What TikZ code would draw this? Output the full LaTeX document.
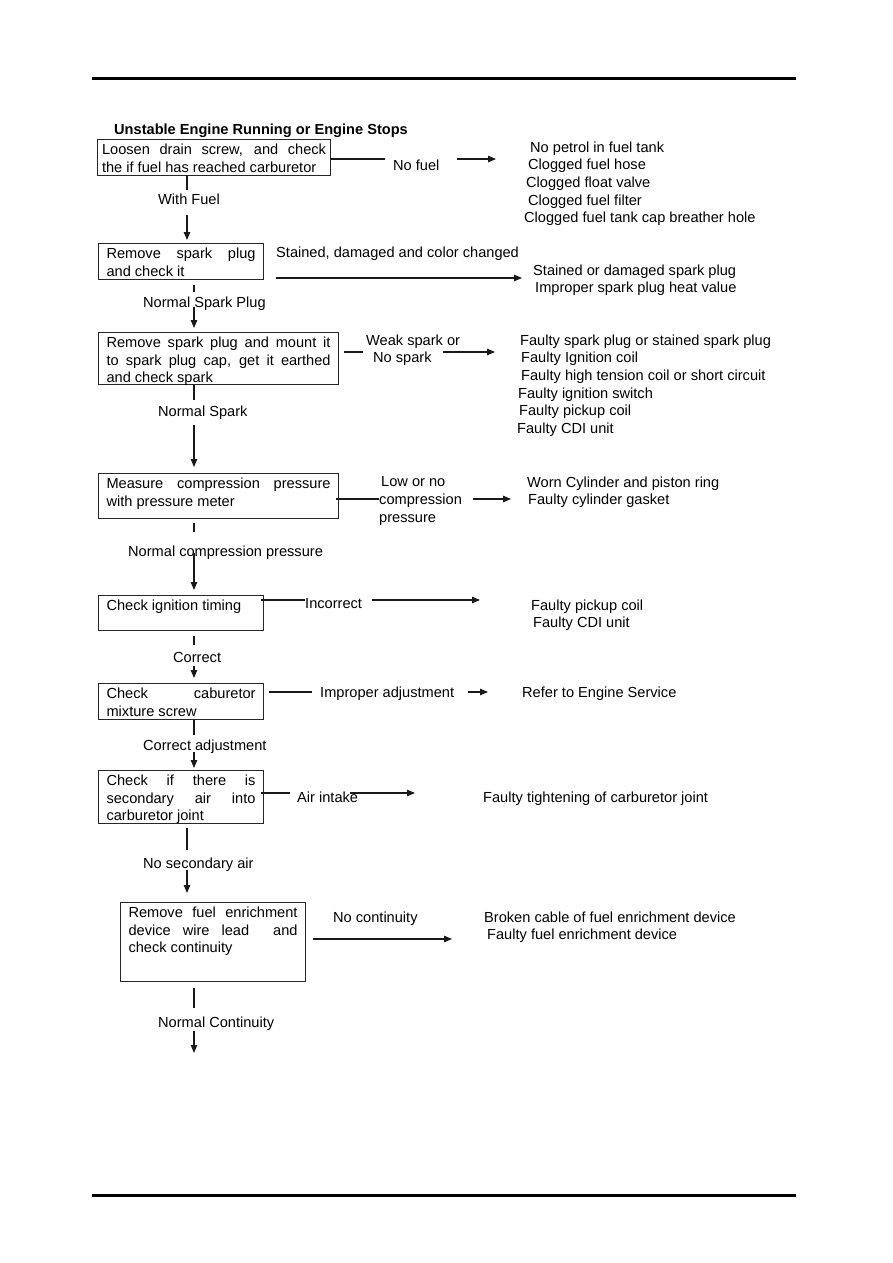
\documentclass[tikz,border=0pt]{standalone}
\usepackage{fontspec}
\setmainfont{Liberation Sans}
\usetikzlibrary{arrows.meta, positioning}

\tikzset{
  stepbox/.style={draw=black!85, line width=1.1pt, anchor=north west, inner xsep=8pt, inner ysep=0pt, align=justify, text height=15.2pt},
  lbl/.style={anchor=base west, inner sep=0pt, text height=10.6pt, text depth=3.1pt},
  res/.style={anchor=north west, inner sep=0pt, align=left, font=\fontsize{14.6}{17.6}\selectfont},
  conn/.style={line width=1.1pt, black!90},
  arr/.style={conn, -{Triangle[length=8pt,width=6.5pt]}},
}

\begin{document}
\begin{tikzpicture}[x=1pt, y=-1pt, font=\fontsize{14.6}{17.4}\selectfont]
  \useasboundingbox (0,0) rectangle (893,1263);
  % page rules
  \draw[line width=3pt] (92,78) -- (796,78);
  \draw[line width=3pt] (92,1195) -- (796,1195);

  \node[anchor=base west, inner sep=0pt, font=\fontsize{14.6}{17.4}\selectfont\bfseries] (title) at (114,134) {Unstable Engine Running or Engine Stops};

  % columns of the main line
  \coordinate (colA) at (187,0);
  \coordinate (colB) at (194,0);

  % check steps
  \node[stepbox, inner xsep=4.5pt, text width=224pt, text depth=20.8pt] (loosen) at (97,139) {Loosen drain screw, and check\linebreak the if fuel has reached carburetor};
  \node[stepbox, text width=149pt, text depth=20.8pt] (plug) at (98,243) {Remove spark plug\linebreak and check it};
  \node[stepbox, text width=224pt, text depth=36.5pt] (spark) at (98,332) {Remove spark plug and mount it\linebreak to spark plug cap, get it earthed\linebreak and check spark};
  \node[stepbox, text width=224pt, text depth=29.8pt] (comp) at (98,473) {Measure compression pressure\linebreak with pressure meter};
  \node[stepbox, text width=149pt, text depth=19.8pt] (timing) at (98,595) {Check ignition timing};
  \node[stepbox, text width=149pt, text depth=20.8pt] (mix) at (98,683) {Check caburetor\linebreak mixture screw};
  \node[stepbox, text width=149pt, text depth=37.8pt] (secair) at (98,770) {Check if there is\linebreak secondary air into\linebreak carburetor joint};
  \node[stepbox, text width=169pt, text depth=63.8pt] (enrich) at (120,902) {Remove fuel enrichment\linebreak device wire lead \ and\linebreak check continuity};

  % labels on the main line
  \node[lbl] (withfuel) at (158,204.2) {With Fuel};
  \node[lbl] (nplug) at (143,307.2) {Normal Spark Plug};
  \node[lbl] (nspark) at (158,416.2) {Normal Spark};
  \node[lbl] (ncomp) at (128,556.2) {Normal compression pressure};
  \node[lbl] (correct) at (173,662.2) {Correct};
  \node[lbl] (cadj) at (143,750.2) {Correct adjustment};
  \node[lbl] (nosec) at (143,868.2) {No secondary air};
  \node[lbl] (ncont) at (158,1027.2) {Normal Continuity};
  \coordinate (next) at (194,1053);

  % main line
  \draw[conn, shorten >=3.6pt] (loosen.south -| colA) -- (withfuel.north -| colA);
  \draw[arr, shorten <=7.7pt, shorten >=3pt] (withfuel.south -| colA) -- (plug.north -| colA);
  \draw[conn, shorten <=5pt, shorten >=4.6pt] (plug.south -| colB) -- (nplug.north -| colB);
  \draw[arr, shorten <=-3.3pt, shorten >=4pt] (nplug.south -| colB) -- (spark.north -| colB);
  \draw[conn, shorten >=5.6pt] (spark.south -| colB) -- (nspark.north -| colB);
  \draw[arr, shorten <=5.7pt, shorten >=6pt] (nspark.south -| colB) -- (comp.north -| colB);
  \draw[conn, shorten <=4pt, shorten >=13.6pt] (comp.south -| colB) -- (ncomp.north -| colB);
  \draw[arr, shorten <=-6.3pt, shorten >=5pt] (ncomp.south -| colB) -- (timing.north -| colB);
  \draw[conn, shorten <=5pt, shorten >=6.6pt] (timing.south -| colB) -- (correct.north -| colB);
  \draw[arr, shorten <=0.7pt, shorten >=5pt] (correct.south -| colB) -- (mix.north -| colB);
  \draw[conn, shorten >=4.6pt] (mix.south -| colB) -- (cadj.north -| colB);
  \draw[arr, shorten <=-1.3pt, shorten >=2pt] (cadj.south -| colB) -- (secair.north -| colB);
  \draw[conn, shorten <=4pt, shorten >=7.6pt] (secair.south -| colA) -- (nosec.north -| colA);
  \draw[arr, shorten <=-1.3pt, shorten >=9pt] (nosec.south -| colA) -- (enrich.north -| colA);
  \draw[conn, shorten <=6pt, shorten >=8.6pt] (enrich.south -| colB) -- (ncont.north -| colB);
  \draw[arr] (ncont.south -| colB) -- (next);

  % side branches
  \node[lbl] (nofuel) at (393,170.2) {No fuel};
  \node[lbl] (stained) at (276,257.2) {Stained, damaged and color changed};
  \node[res] (weak) at (366,334.6) {Weak spark or\\\hspace*{7pt}No spark};
  \node[res] (lowno) at (379,476.6) {\hspace*{2pt}Low or no\\compression\\pressure};
  \node[lbl] (incorrect) at (305,608.2) {Incorrect};
  \node[lbl] (improper) at (320,697.2) {Improper adjustment};
  \node[lbl] (airin) at (297,802.2) {Air intake};
  \node[lbl] (nocont) at (333,922.2) {No continuity};

  \coordinate (tipfuel) at (496,159);
  \coordinate (tipplug) at (522,278);
  \coordinate (tipspark) at (495,352);
  \coordinate (tipcomp) at (511,499);
  \coordinate (tiptiming) at (480,600);
  \coordinate (tipmix) at (488,692);
  \coordinate (tipair) at (415,793);
  \coordinate (tipenrich) at (452,939);

  \draw[conn, shorten >=8pt] (loosen.east |- tipfuel) -- (nofuel.west |- tipfuel);
  \draw[arr, shorten <=17pt] (nofuel.east |- tipfuel) -- (tipfuel);
  \draw[arr, shorten <=12pt] (plug.east |- tipplug) -- (tipplug);
  \draw[conn, shorten <=5pt, shorten >=3pt] (spark.east |- tipspark) -- (weak.west |- tipspark);
  \draw[arr, shorten <=-17pt] (weak.east |- tipspark) -- (tipspark);
  \draw[conn, shorten <=-3pt] (comp.east |- tipcomp) -- (lowno.west |- tipcomp);
  \draw[arr, shorten <=11pt] (lowno.east |- tipcomp) -- (tipcomp);
  \draw[conn, shorten <=-3pt] (timing.east |- tiptiming) -- (incorrect.west |- tiptiming);
  \draw[arr, shorten <=10pt] (incorrect.east |- tiptiming) -- (tiptiming);
  \draw[conn, shorten <=5pt, shorten >=8pt] (mix.east |- tipmix) -- (improper.west |- tipmix);
  \draw[arr, shorten <=14pt] (improper.east |- tipmix) -- (tipmix);
  \draw[conn, shorten <=-3pt, shorten >=7pt] (secair.east |- tipair) -- (airin.west |- tipair);
  \draw[arr, shorten <=-8pt] (airin.east |- tipair) -- (tipair);
  \draw[arr, shorten <=7pt] (enrich.east |- tipenrich) -- (tipenrich);

  % causes
  \node[res] (fuelres) at (524,141.6) {\hspace*{6pt}No petrol in fuel tank\\\hspace*{4pt}Clogged fuel hose\\\hspace*{2pt}Clogged float valve\\\hspace*{4pt}Clogged fuel filter\\Clogged fuel tank cap breather hole};
  \node[res] (plugres) at (533,264.6) {Stained or damaged spark plug\\\hspace*{2pt}Improper spark plug heat value};
  \node[res] (sparkres) at (517,334.6) {\hspace*{3pt}Faulty spark plug or stained spark plug\\\hspace*{4pt}Faulty Ignition coil\\\hspace*{4pt}Faulty high tension coil or short circuit\\\hspace*{1pt}Faulty ignition switch\\\hspace*{2pt}Faulty pickup coil\\Faulty CDI unit};
  \node[res] (compres) at (527,476.6) {Worn Cylinder and piston ring\\\hspace*{1pt}Faulty cylinder gasket};
  \node[res] (timingres) at (531,599.6) {Faulty pickup coil\\\hspace*{2pt}Faulty CDI unit};
  \node[lbl] (mixres) at (522,697.2) {Refer to Engine Service};
  \node[lbl] (airres) at (483,802.2) {Faulty tightening of carburetor joint};
  \node[res] (enrichres) at (484,911.6) {Broken cable of fuel enrichment device\\\hspace*{3pt}Faulty fuel enrichment device};
\end{tikzpicture}
\end{document}
